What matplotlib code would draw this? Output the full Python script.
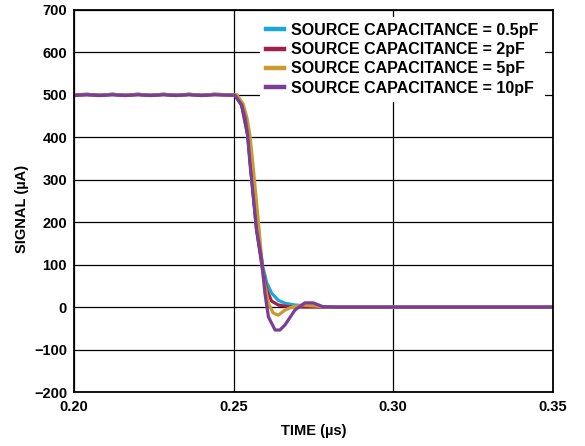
import matplotlib
matplotlib.use("Agg")
import matplotlib.pyplot as plt

plt.rcParams["font.family"] = ["Liberation Sans", "DejaVu Sans"]
plt.rcParams["font.weight"] = "bold"

# flat pre-edge samples (us) shared by all four traces
t_pre = [0.200, 0.204, 0.208, 0.212, 0.216, 0.220, 0.224, 0.228, 0.232, 0.236, 0.240, 0.244, 0.248]

# 0.5pF
t_05 = t_pre + [0.2504, 0.2525, 0.2544, 0.2572, 0.2590, 0.2604, 0.2619, 0.2640, 0.2661, 0.2692, 0.2723, 0.2800, 0.3500]
s_05 = [499, 501, 499, 501, 499, 501, 499, 501, 499, 501, 499, 501, 500,
        499, 476, 405, 182, 100, 57, 33, 16, 9, 5, 3, 0, 0]
# 2pF
t_2 = t_pre + [0.2504, 0.2525, 0.2544, 0.2572, 0.2590, 0.2604, 0.2619, 0.2640, 0.2670, 0.2720, 0.3500]
s_2 = [500, 501, 499, 501, 499, 501, 499, 501, 499, 501, 499, 501, 500,
       499, 476, 405, 182, 90, 40, 14, 5, 1, 0, 0]
# 5pF
t_5 = t_pre + [0.2510, 0.2530, 0.2542, 0.2551, 0.2560, 0.2580, 0.2593, 0.2609, 0.2624, 0.2640, 0.2661, 0.2686, 0.2717, 0.2750, 0.2790, 0.3500]
s_5 = [499, 500, 499, 501, 499, 501, 499, 501, 499, 501, 499, 501, 500,
       500, 478, 445, 405, 340, 182, 71, 9, -14, -19, -7, 1, 5, 3, 0, 0]
# 10pF
t_10 = t_pre + [0.2504, 0.2525, 0.2536, 0.2544, 0.2551, 0.2572, 0.2588, 0.2598, 0.2609, 0.2630, 0.2645, 0.2661, 0.2692, 0.2723, 0.2749, 0.2780, 0.2820, 0.3500]
s_10 = [498, 500, 498, 500, 498, 500, 498, 500, 498, 500, 498, 500, 499,
        499, 476, 445, 405, 340, 182, 111, 33, -23, -54, -54, -42, -7, 10, 10, 1, 0, 0]

series = [
    (t_05, s_05, "SOURCE CAPACITANCE = 0.5pF", "#1AA7DF"),
    (t_2, s_2, "SOURCE CAPACITANCE = 2pF", "#A21F4B"),
    (t_5, s_5, "SOURCE CAPACITANCE = 5pF", "#C99A2E"),
    (t_10, s_10, "SOURCE CAPACITANCE = 10pF", "#7B3E97"),
]

fig = plt.figure(figsize=(5.85, 4.46), dpi=100)
ax = fig.add_axes([0.1265, 0.121, 0.8185, 0.857])

for t, s, lbl, col in series:
    ax.plot(t, s, color=col, lw=2.3, label=lbl, solid_joinstyle="round")

ax.set_xlim(0.20, 0.35)
ax.set_ylim(-200, 700)
ax.set_xticks([0.20, 0.25, 0.30, 0.35])
ax.set_xticklabels(["0.20", "0.25", "0.30", "0.35"])
ax.set_yticks(range(-200, 701, 100))
ax.grid(True, color="black", lw=0.9)
ax.set_axisbelow(True)
ax.tick_params(length=0, labelsize=10.5)
ax.tick_params(axis="x", pad=6)
ax.tick_params(axis="y", pad=5)
for sp in ax.spines.values():
    sp.set_linewidth(1.3)
ax.set_xlabel("TIME (µs)", fontsize=10.5, fontweight="bold", labelpad=7)
ax.set_ylabel("SIGNAL (µA)", fontsize=10.5, fontweight="bold")
ax.yaxis.set_label_coords(-0.095, 0.48)

leg = ax.legend(loc="upper right", bbox_to_anchor=(0.983, 0.982), fontsize=11.5,
                frameon=True, fancybox=False, edgecolor="none", framealpha=1,
                handlelength=1.1, handletextpad=0.45, labelspacing=0.26,
                borderpad=0.4, borderaxespad=0)
for line in leg.get_lines():
    line.set_linewidth(3.2)

fig.savefig("out.png", dpi=100)
